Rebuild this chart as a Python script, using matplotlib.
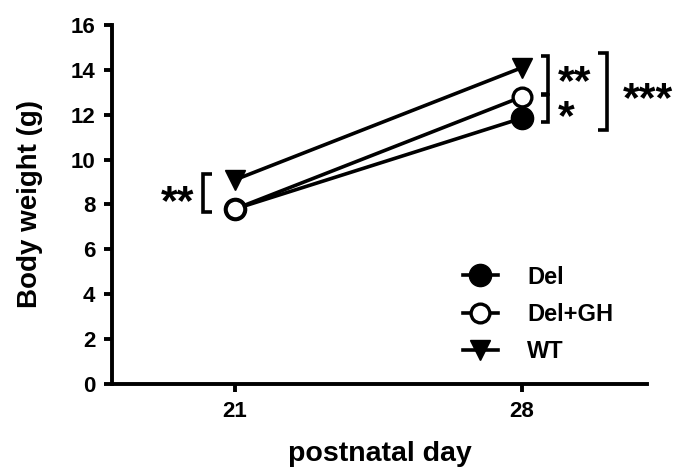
import matplotlib
matplotlib.use("Agg")
import matplotlib.pyplot as plt

plt.rcParams['font.family'] = ['Liberation Sans', 'DejaVu Sans']
plt.rcParams['font.weight'] = 'bold'

days = [21, 28]
del_vals = [7.8, 11.85]
delgh_vals = [7.8, 12.8]
wt_vals = [9.1, 14.1]
series_names = ["Del", "Del+GH", "WT"]
yticks = [0, 2, 4, 6, 8, 10, 12, 14, 16]

fig = plt.figure(figsize=(6.85, 4.68), dpi=100)
ax = fig.add_axes([112/685, 1 - 384/468, (647-112)/685, (384-25)/468])

lw = 2.6
ax.plot(days, del_vals, color='black', lw=lw, marker='o', ms=16,
        markerfacecolor='black', markeredgecolor='black', label=series_names[0], zorder=3)
ax.plot(days, delgh_vals, color='black', lw=lw, marker='o', ms=13.5,
        markerfacecolor='white', markeredgecolor='black', markeredgewidth=2.4,
        label=series_names[1], zorder=3)
ax.plot(days, wt_vals, color='black', lw=lw, marker='v', ms=14,
        markerfacecolor='black', markeredgecolor='black', label=series_names[2], zorder=3)

ax.set_xlim(18, 31.05)
ax.set_ylim(0, 16)
ax.set_xticks(days)
ax.set_yticks(yticks)
for s in ['top', 'right']:
    ax.spines[s].set_visible(False)
for s in ['left', 'bottom']:
    ax.spines[s].set_linewidth(2.8)
ax.tick_params(axis='both', width=2.8, length=6, labelsize=16, direction='out')
ax.tick_params(axis='y', pad=6)
ax.tick_params(axis='x', pad=6)
for lab in ax.get_xticklabels() + ax.get_yticklabels():
    lab.set_fontweight('bold')
ax.set_ylabel("Body weight (g)", fontsize=20, fontweight='bold')
ax.yaxis.set_label_coords(-0.129, 0.5)
ax.set_xlabel("postnatal day", fontsize=20.5, fontweight='bold')
ax.xaxis.set_label_coords(0.5, -0.16)

def bracket(x, y0, y1, arm):
    ax.plot([x + arm, x, x, x + arm], [y0, y0, y1, y1], color='black',
            lw=2.6, clip_on=False, solid_capstyle='butt', solid_joinstyle='miter')

STAR_SIZE = 31

def stars(x, y, s):
    ax.annotate(s, (x, y), xytext=(0, -6), textcoords='offset points',
                fontsize=STAR_SIZE, fontweight='bold', ha='center', va='center',
                annotation_clip=False)

# left bracket at day 21
bracket(20.23, 7.66, 9.36, 0.21)
stars(19.59, 8.42, "**")

# right brackets at day 28
bracket(28.63, 12.92, 14.62, -0.17)
bracket(28.63, 11.68, 12.88, -0.17)
ax.annotate("**\n*", (28.87, 14.30), fontsize=STAR_SIZE, fontweight='bold',
            ha='left', va='top', multialignment='left', linespacing=0.84,
            annotation_clip=False)
bracket(30.07, 11.32, 14.75, -0.22)
stars(31.07, 13.01, "***")

leg = ax.legend(loc='center left', bbox_to_anchor=(0.617, 0.194), frameon=False,
                handlelength=1.45, labelspacing=0.6, handletextpad=1.25,
                prop={'weight': 'bold', 'size': 17})

fig.savefig("out.png", dpi=100)
